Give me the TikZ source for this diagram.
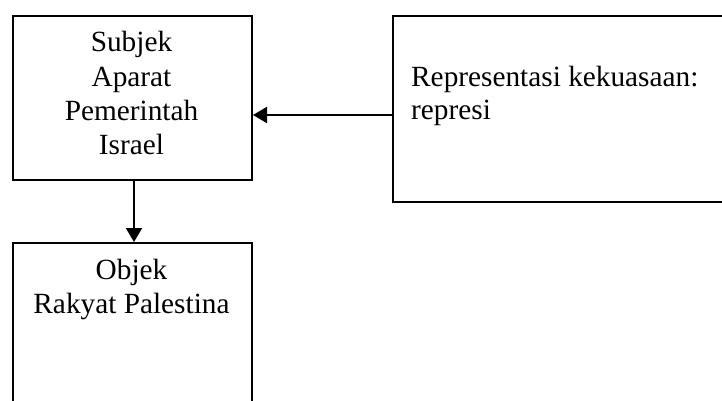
\documentclass[tikz,border=0pt]{standalone}
\usepackage{fontspec}
\setmainfont{Liberation Serif}
\usetikzlibrary{arrows.meta}
\begin{document}
\begin{tikzpicture}[x=1pt,y=-1pt,
  box/.style={draw=black,line width=2pt,rectangle,anchor=north west,inner sep=0pt},
  txt/.style={anchor=base,inner sep=0pt,font=\fontsize{29.3}{34}\selectfont},
  ltxt/.style={txt,anchor=base west},
  link/.style={line width=2pt,-{Triangle[length=14pt,width=16pt]}}]
\useasboundingbox (0,0) rectangle (722,401);
\clip (0,0) rectangle (722,401);
\fill[white] (0,0) rectangle (722,401);

% boxes
\node[box,minimum width=239pt,minimum height=164pt] (subj) at (12,15) {};
\node[box,minimum width=360pt,minimum height=186pt] (rep) at (392,15) {};
\node[box,minimum width=239pt,minimum height=200pt] (obj) at (12,242) {};

% labels
\node[txt] (s1) at (131.5,52) {Subjek};
\node[txt] (s2) at (131.5,87) {Aparat};
\node[txt] (s3) at (131.5,121) {Pemerintah};
\node[txt] (s4) at (131.5,154) {Israel};
\node[ltxt] (r1) at (411,87) {Representasi kekuasaan:};
\node[ltxt] (r2) at (411,119) {represi};
\node[txt] (o1) at (131.5,279) {Objek};
\node[txt] (o2) at (131.5,313) {Rakyat Palestina};

% connectors
\coordinate (rin) at (rep.west |- 0,115);
\coordinate (sin) at (subj.east |- 0,115);
\draw[link] (rin) -- (sin);
\coordinate (sdn) at (134,179);
\coordinate (oup) at (134,242);
\draw[link] (sdn) -- (oup);
\end{tikzpicture}
\end{document}
